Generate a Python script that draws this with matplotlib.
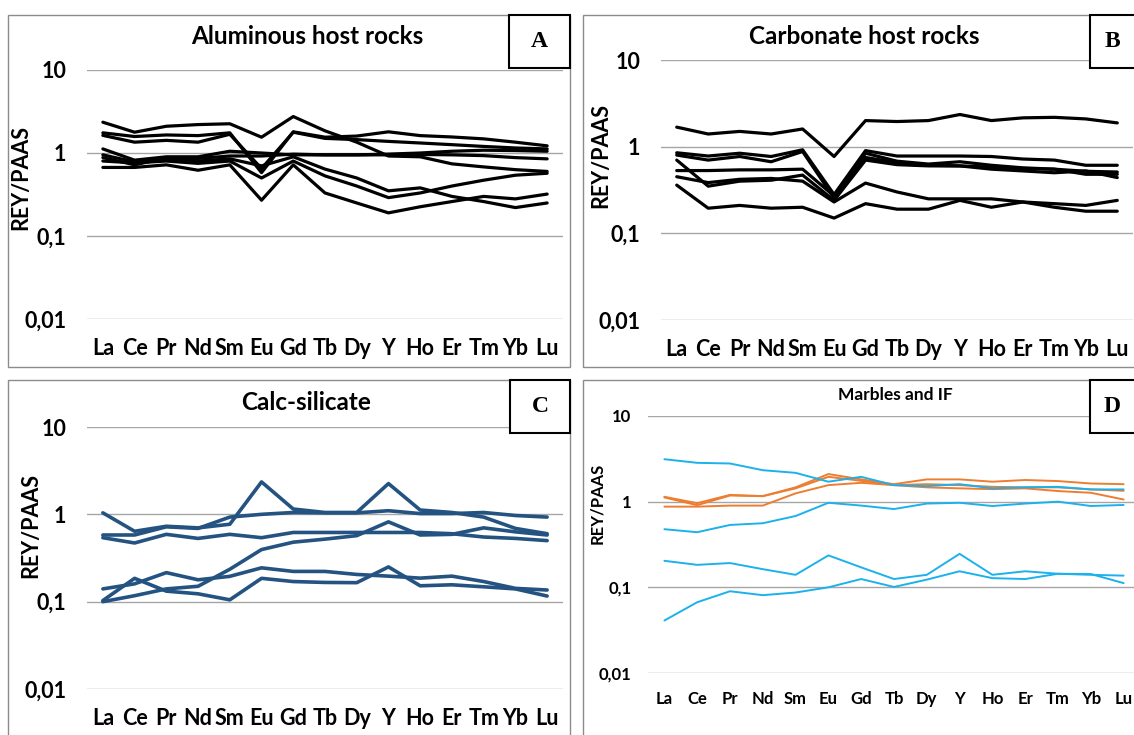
import numpy as np
import matplotlib.pyplot as plt
from matplotlib.patches import Rectangle
from matplotlib.ticker import NullLocator

plt.rcParams['font.family'] = ['Lato', 'DejaVu Sans']

elements = ['La', 'Ce', 'Pr', 'Nd', 'Sm', 'Eu', 'Gd', 'Tb', 'Dy', 'Y',
            'Ho', 'Er', 'Tm', 'Yb', 'Lu']
yticks = [0.01, 0.1, 1, 10]
ytick_labels = ['0,01', '0,1', '1', '10']

# REY/PAAS normalised patterns, one list per sample
aluminous = [
    [2.35, 1.78, 2.10, 2.20, 2.25, 1.55, 2.75, 1.85, 1.35, 0.92, 0.90, 0.74, 0.68, 0.63, 0.60],
    [1.75, 1.58, 1.65, 1.62, 1.75, 0.58, 1.80, 1.55, 1.60, 1.80, 1.62, 1.56, 1.48, 1.35, 1.22],
    [1.63, 1.35, 1.42, 1.35, 1.68, 0.65, 1.78, 1.50, 1.45, 1.38, 1.32, 1.26, 1.20, 1.15, 1.12],
    [1.12, 0.82, 0.90, 0.90, 1.05, 1.00, 0.95, 0.95, 0.95, 0.97, 1.00, 1.05, 1.08, 1.07, 1.05],
    [0.95, 0.78, 0.83, 0.86, 0.92, 0.92, 0.97, 0.95, 0.95, 0.95, 0.96, 0.95, 0.93, 0.88, 0.85],
    [0.88, 0.72, 0.87, 0.80, 0.85, 0.70, 0.90, 0.64, 0.50, 0.35, 0.38, 0.30, 0.26, 0.22, 0.25],
    [0.80, 0.76, 0.80, 0.75, 0.80, 0.50, 0.80, 0.53, 0.40, 0.29, 0.33, 0.40, 0.47, 0.54, 0.57],
    [0.67, 0.67, 0.72, 0.62, 0.72, 0.27, 0.72, 0.33, 0.25, 0.19, 0.225, 0.26, 0.30, 0.28, 0.32],
]

carbonate = [
    [1.68, 1.40, 1.50, 1.40, 1.60, 0.77, 2.00, 1.95, 2.00, 2.35, 2.00, 2.15, 2.18, 2.09, 1.88],
    [0.85, 0.78, 0.84, 0.77, 0.92, 0.28, 0.90, 0.78, 0.78, 0.78, 0.77, 0.72, 0.70, 0.61, 0.61],
    [0.80, 0.70, 0.77, 0.67, 0.88, 0.255, 0.84, 0.68, 0.63, 0.67, 0.61, 0.57, 0.55, 0.48, 0.48],
    [0.70, 0.35, 0.40, 0.41, 0.47, 0.24, 0.70, 0.62, 0.60, 0.60, 0.58, 0.56, 0.55, 0.52, 0.51],
    [0.53, 0.53, 0.54, 0.54, 0.55, 0.27, 0.75, 0.655, 0.61, 0.60, 0.55, 0.525, 0.50, 0.525, 0.44],
    [0.45, 0.385, 0.42, 0.43, 0.40, 0.23, 0.38, 0.30, 0.25, 0.25, 0.25, 0.23, 0.22, 0.21, 0.24],
    [0.36, 0.195, 0.21, 0.195, 0.20, 0.15, 0.22, 0.19, 0.19, 0.24, 0.20, 0.23, 0.20, 0.18, 0.18],
]

calc_silicate = [
    [1.04, 0.64, 0.73, 0.70, 0.77, 2.35, 1.15, 1.05, 1.05, 2.25, 1.12, 1.05, 0.93, 0.69, 0.60],
    [0.58, 0.58, 0.72, 0.69, 0.93, 1.00, 1.05, 1.04, 1.04, 1.10, 1.02, 1.02, 1.05, 0.97, 0.93],
    [0.54, 0.47, 0.59, 0.53, 0.59, 0.54, 0.62, 0.62, 0.62, 0.62, 0.62, 0.60, 0.55, 0.53, 0.50],
    [0.10, 0.117, 0.14, 0.15, 0.235, 0.395, 0.48, 0.52, 0.57, 0.82, 0.58, 0.59, 0.70, 0.63, 0.58],
    [0.14, 0.16, 0.215, 0.178, 0.195, 0.244, 0.222, 0.222, 0.205, 0.196, 0.186, 0.196, 0.17, 0.142, 0.136],
    [0.103, 0.185, 0.132, 0.123, 0.105, 0.185, 0.17, 0.166, 0.165, 0.25, 0.152, 0.156, 0.148, 0.14, 0.116],
]

marbles = [
    [1.14, 0.96, 1.20, 1.16, 1.47, 2.10, 1.82, 1.60, 1.82, 1.82, 1.71, 1.79, 1.74, 1.63, 1.60],
    [1.12, 0.91, 1.18, 1.16, 1.43, 1.95, 1.75, 1.56, 1.47, 1.43, 1.40, 1.43, 1.33, 1.27, 1.06],
    [0.875, 0.875, 0.90, 0.90, 1.25, 1.56, 1.66, 1.56, 1.60, 1.56, 1.49, 1.47, 1.47, 1.39, 1.34],
]

iron_formation = [
    [3.13, 2.84, 2.79, 2.33, 2.17, 1.71, 1.95, 1.56, 1.52, 1.60, 1.43, 1.47, 1.49, 1.39, 1.39],
    [0.477, 0.44, 0.535, 0.56, 0.68, 0.97, 0.90, 0.82, 0.95, 0.97, 0.89, 0.95, 1.00, 0.89, 0.915],
    [0.204, 0.183, 0.192, 0.163, 0.14, 0.236, 0.171, 0.125, 0.14, 0.246, 0.14, 0.154, 0.144, 0.143, 0.112],
    [0.041, 0.067, 0.09, 0.081, 0.087, 0.10, 0.125, 0.101, 0.123, 0.154, 0.128, 0.125, 0.144, 0.14, 0.137],
]

W, H = 1134, 735
fig = plt.figure(figsize=(W / 100, H / 100), dpi=100)


def frac(x0, y0, x1, y1):
    # pixel box (top-left origin) -> figure fraction [left, bottom, width, height]
    return [x0 / W, 1 - y1 / H, (x1 - x0) / W, (y1 - y0) / H]


def add_rect(x0, y0, x1, y1, **kw):
    l, b, w, h = frac(x0, y0, x1, y1)
    fig.add_artist(Rectangle((l, b), w, h, transform=fig.transFigure, **kw))


def panel(rect, groups, title, title_xy, letter, letter_box, ylabel_xy, frame,
          fs=15.5, title_fs=17.5, ylabel_fs=15.5, ypad=15, xpad=14):
    add_rect(*frame, fill=False, edgecolor='#8c8c8c', lw=1.0, zorder=0.5)
    ax = fig.add_axes(frac(*rect))
    x = np.arange(len(elements))
    for series, color, lw in groups:
        for s in series:
            ax.plot(x, s, color=color, lw=lw, solid_capstyle='round')
    ax.set_yscale('log')
    ax.set_ylim(0.01, 10)
    ax.set_xlim(-0.5, len(elements) - 0.5)
    ax.set_yticks(yticks)
    ax.set_yticklabels(ytick_labels)
    ax.yaxis.set_minor_locator(NullLocator())
    ax.set_xticks(x)
    ax.set_xticklabels(elements)
    ax.tick_params(axis='y', length=0, labelsize=fs, pad=ypad)
    ax.tick_params(axis='x', length=0, labelsize=fs, pad=xpad)
    for lab in ax.get_xticklabels() + ax.get_yticklabels():
        lab.set_fontweight('bold')
    ax.grid(axis='y', color='#a6a6a6', lw=1.0)
    ax.set_axisbelow(True)
    for sp in ax.spines.values():
        sp.set_visible(False)
    ax.patch.set_alpha(0)

    fig.text(title_xy[0] / W, 1 - title_xy[1] / H, title, fontsize=title_fs,
             fontweight='bold', ha='center', va='center')
    fig.text(ylabel_xy[0] / W, 1 - ylabel_xy[1] / H, 'REY/PAAS', fontsize=ylabel_fs,
             fontweight='bold', rotation=90, ha='center', va='center')
    add_rect(*letter_box, facecolor='white', edgecolor='black', lw=1.5, zorder=5)
    cx = (letter_box[0] + min(letter_box[2], W)) / 2
    cy = (letter_box[1] + letter_box[3]) / 2
    fig.text(cx / W, 1 - cy / H, letter, fontsize=17, fontweight='bold',
             family='Liberation Serif', ha='center', va='center', zorder=6)
    return ax


panel((87, 70, 563, 319), [(aluminous, 'black', 2.3)],
      'Aluminous host rocks', (307, 37), 'A', (509, 15, 570, 68),
      (21, 178), (8, 15, 570, 367))

panel((661, 60, 1133, 320), [(carbonate, 'black', 2.3)],
      'Carbonate host rocks', (864, 36), 'B', (1090, 15, 1140, 68),
      (601, 155), (583, 15, 1140, 367))

panel((87, 427, 563, 689), [(calc_silicate, '#245381', 2.6)],
      'Calc-silicate', (306, 402), 'C', (510, 380, 570, 433),
      (31, 525), (8, 380, 570, 740))

panel((648, 416, 1140, 673), [(marbles, '#ed7d31', 1.4), (iron_formation, '#1cb1ec', 1.4)],
      'Marbles and IF', (895, 395), 'D', (1090, 380, 1140, 433),
      (597, 503), (583, 380, 1140, 740),
      fs=12, title_fs=12.5, ylabel_fs=12, ypad=12, xpad=13)

fig.savefig('out.png', dpi=100)
